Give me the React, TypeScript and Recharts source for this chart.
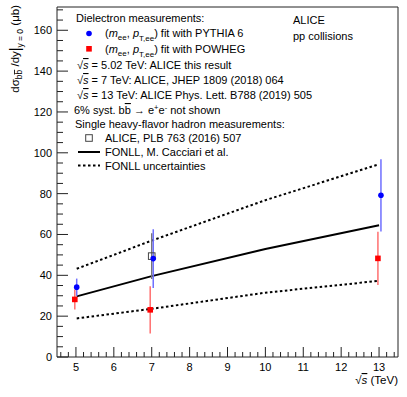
import React from "react";
import {
  ComposedChart,
  XAxis,
  YAxis,
  Line,
  Scatter,
  ErrorBar,
  ReferenceArea,
} from "recharts";

// Dielectron, (m_ee, pT_ee) fit with PYTHIA 6
const pythiaX = [5.02, 7.04, 13.05];
const pythiaY = [34.2, 48.2, 79.2];
const pythiaErr = [4.2, 14.4, 17.7];

// Dielectron, (m_ee, pT_ee) fit with POWHEG
const powhegX = [4.97, 6.96, 12.97];
const powhegY = [28.2, 23.1, 48.3];
const powhegErr = [4.9, 11.6, 13.0];

// ALICE single heavy-flavour hadrons, PLB 763 (2016) 507
const hadronX = [7];
const hadronY = [49.4];
const hadronErr = [11.2];

// FONLL
const fonllX = [5.02, 7, 10, 13];
const fonllCentral = [29.7, 39.6, 52.9, 64.5];
const fonllUpper = [43.2, 57.0, 76.8, 94.4];
const fonllLower = [18.9, 23.6, 31.5, 37.3];

const xMajor = [5, 6, 7, 8, 9, 10, 11, 12, 13];
const yMajor = [0, 20, 40, 60, 80, 100, 120, 140, 160];

const X_MIN = 4.5;
const X_MAX = 13.5;
const Y_MAX = 171.4;

const FONT = "'Liberation Sans', Arial, Helvetica, sans-serif";
const AXIS = "#222";

// minor ticks: 0.2 on x, 5 on y
const xTicks: number[] = [];
for (let i = 23; i <= 67; i++) xTicks.push(Math.round(i * 2) / 10);
const yTicks: number[] = [];
for (let v = 0; v <= 170; v += 5) yTicks.push(v);

const points = (xs: number[], ys: number[], errs?: number[]) =>
  xs.map((x, i) => ({ x, y: ys[i], err: errs ? errs[i] : 0 }));

const XTick = (props: any) => {
  const { x, y, payload } = props;
  const v = payload.value;
  const major = xMajor.some((m) => Math.abs(m - v) < 1e-6);
  return (
    <g>
      <line x1={x} x2={x} y1={y} y2={y - (major ? 10 : 5)} stroke={AXIS} />
      {major && (
        <text x={x} y={y + 13.5} textAnchor="middle" fontSize={11} fontFamily={FONT} fill="#000">
          {Math.round(v)}
        </text>
      )}
    </g>
  );
};

const YTick = (props: any) => {
  const { x, y, payload } = props;
  const v = payload.value;
  const major = yMajor.includes(v);
  return (
    <g>
      <line x1={x} x2={x + (major ? 11 : 6)} y1={y} y2={y} stroke={AXIS} />
      {major && (
        <text x={x - 5} y={y + 4} textAnchor="end" fontSize={11} fontFamily={FONT} fill="#000">
          {v}
        </text>
      )}
    </g>
  );
};

const BlueDot = (p: any) => <circle cx={p.cx} cy={p.cy} r={2.8} fill="#0000ff" />;
const RedSquare = (p: any) => (
  <rect x={p.cx - 2.8} y={p.cy - 2.8} width={5.6} height={5.6} fill="#ff0000" />
);
const OpenSquare = (p: any) => (
  <rect x={p.cx - 3.3} y={p.cy - 3.3} width={6.6} height={6.6} fill="none" stroke="#444" />
);

const Sqrt = () => (
  <>
    √<tspan fontStyle="italic" style={{ textDecoration: "overline" }}>s</tspan>
  </>
);

function Overlay() {
  const t = { fontSize: 11, fontFamily: FONT, fill: "#000" };
  return (
    <svg
      width={407}
      height={397}
      style={{ position: "absolute", left: 0, top: 0, pointerEvents: "none" }}
    >
      {/* y title */}
      <text transform="rotate(-90)" x={-5} y={19} textAnchor="end" {...t} fontSize={11.5}>
        dσ<tspan fontSize={8.5} dy={3}>b</tspan>
        <tspan fontSize={8.5} style={{ textDecoration: "overline" }}>b</tspan>
        <tspan dy={-3}> /dy</tspan>
        <tspan fontSize={14} dy={1}>|</tspan>
        <tspan fontSize={8.5} dy={3}>y = 0</tspan>
        <tspan dy={-4}> (μb)</tspan>
      </text>
      {/* x title */}
      <text x={398} y={384} textAnchor="end" {...t} fontSize={11.5}>
        <Sqrt /> (TeV)
      </text>

      <text x={293} y={24} {...t}>ALICE</text>
      <text x={293} y={40} {...t}>pp collisions</text>

      <text x={76} y={22} {...t}>Dielectron measurements:</text>

      <circle cx={89} cy={33.5} r={2.8} fill="#0000ff" />
      <text x={105} y={37} {...t}>
        (<tspan fontStyle="italic">m</tspan>
        <tspan fontSize={8} dy={3}>ee</tspan>
        <tspan dy={-3}>, </tspan>
        <tspan fontStyle="italic">p</tspan>
        <tspan fontSize={8} dy={4}>T,ee</tspan>
        <tspan dy={-4}>) fit with PYTHIA 6</tspan>
      </text>

      <rect x={86.2} y={46} width={5.6} height={5.6} fill="#ff0000" />
      <text x={105} y={52.5} {...t}>
        (<tspan fontStyle="italic">m</tspan>
        <tspan fontSize={8} dy={3}>ee</tspan>
        <tspan dy={-3}>, </tspan>
        <tspan fontStyle="italic">p</tspan>
        <tspan fontSize={8} dy={4}>T,ee</tspan>
        <tspan dy={-4}>) fit with POWHEG</tspan>
      </text>

      <text x={77} y={69} {...t}>
        <Sqrt /> = 5.02 TeV: ALICE this result
      </text>
      <text x={77} y={84} {...t}>
        <Sqrt /> = 7 TeV: ALICE, JHEP 1809 (2018) 064
      </text>
      <text x={77} y={99} {...t}>
        <Sqrt /> = 13 TeV: ALICE Phys. Lett. B788 (2019) 505
      </text>
      <text x={74} y={114} {...t}>
        6% syst. b<tspan style={{ textDecoration: "overline" }}>b</tspan> → e
        <tspan fontSize={7.5} dy={-4}>+</tspan>
        <tspan dy={4}>e</tspan>
        <tspan fontSize={7.5} dy={-4}>-</tspan>
        <tspan dy={4}> not shown</tspan>
      </text>
      <text x={75} y={128} {...t}>Single heavy-flavor hadron measurements:</text>

      <rect x={85.7} y={134.7} width={6.6} height={6.6} fill="none" stroke="#444" />
      <text x={105} y={142} {...t}>ALICE, PLB 763 (2016) 507</text>

      <line x1={78} x2={100} y1={152} y2={152} stroke="#000" strokeWidth={2} />
      <text x={105} y={156} {...t}>FONLL, M. Cacciari et al.</text>

      <line x1={78} x2={100} y1={165.5} y2={165.5} stroke="#000" strokeWidth={2} strokeDasharray="2.5 2.5" />
      <text x={105} y={169.5} {...t}>FONLL uncertainties</text>
    </svg>
  );
}

export default function App() {
  return (
    <div
      style={{
        position: "absolute",
        left: 0,
        top: 0,
        width: 407,
        height: 397,
        background: "#fff",
      }}
    >
      <ComposedChart
        width={407}
        height={397}
        margin={{ top: 7, right: 9, bottom: 0, left: 0 }}
      >
        <XAxis
          dataKey="x"
          type="number"
          domain={[X_MIN, X_MAX]}
          ticks={xTicks}
          interval={0}
          tick={XTick}
          tickLine={false}
          tickSize={0}
          tickMargin={0}
          axisLine={false}
          height={40}
          allowDataOverflow
        />
        <YAxis
          type="number"
          domain={[0, Y_MAX]}
          ticks={yTicks}
          interval={0}
          tick={YTick}
          tickLine={false}
          tickSize={0}
          tickMargin={0}
          axisLine={false}
          width={57}
          allowDataOverflow
        />
        <ReferenceArea
          x1={X_MIN}
          x2={X_MAX}
          y1={0}
          y2={Y_MAX}
          fill="none"
          fillOpacity={0}
          stroke={AXIS}
          strokeWidth={1}
        />
        <Line
          data={points(fonllX, fonllUpper)}
          dataKey="y"
          type="linear"
          stroke="#000"
          strokeWidth={2}
          strokeDasharray="2.5 2.5"
          dot={false}
          isAnimationActive={false}
        />
        <Line
          data={points(fonllX, fonllLower)}
          dataKey="y"
          type="linear"
          stroke="#000"
          strokeWidth={2}
          strokeDasharray="2.5 2.5"
          dot={false}
          isAnimationActive={false}
        />
        <Line
          data={points(fonllX, fonllCentral)}
          dataKey="y"
          type="linear"
          stroke="#000"
          strokeWidth={2}
          dot={false}
          isAnimationActive={false}
        />
        <Scatter
          data={points(hadronX, hadronY, hadronErr)}
          dataKey="y"
          shape={OpenSquare}
          isAnimationActive={false}
        >
          <ErrorBar dataKey="err" direction="y" width={0} stroke="#777" strokeWidth={1.5} isAnimationActive={false} />
        </Scatter>
        <Scatter
          data={points(pythiaX, pythiaY, pythiaErr)}
          dataKey="y"
          shape={BlueDot}
          isAnimationActive={false}
        >
          <ErrorBar dataKey="err" direction="y" width={0} stroke="#6f6fff" strokeWidth={1.5} isAnimationActive={false} />
        </Scatter>
        <Scatter
          data={points(powhegX, powhegY, powhegErr)}
          dataKey="y"
          shape={RedSquare}
          isAnimationActive={false}
        >
          <ErrorBar dataKey="err" direction="y" width={0} stroke="#ff6f6f" strokeWidth={1.5} isAnimationActive={false} />
        </Scatter>
      </ComposedChart>
      <Overlay />
    </div>
  );
}
